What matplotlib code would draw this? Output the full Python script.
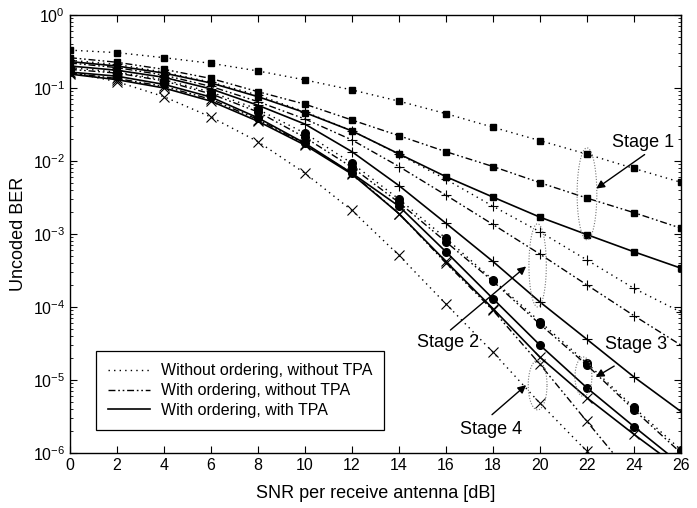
import numpy as np
import matplotlib
matplotlib.use("Agg")
import matplotlib.pyplot as plt
from matplotlib.lines import Line2D
from matplotlib.ticker import NullFormatter, FixedLocator, LogFormatterSciNotation

plt.rcParams['font.family'] = ['Liberation Sans', 'DejaVu Sans']
plt.rcParams['mathtext.fontset'] = 'custom'
plt.rcParams['mathtext.rm'] = 'Liberation Sans'
plt.rcParams['mathtext.it'] = 'Liberation Sans:italic'

snr = [0, 2, 4, 6, 8, 10, 12, 14, 16, 18, 20, 22, 24, 26]
ber_ticks = [1e-6, 1e-5, 1e-4, 1e-3, 1e-2, 1e-1, 1e0]

# Stage 1 (squares)
s1_noord = [0.33, 0.305, 0.26, 0.218, 0.171, 0.129, 0.094, 0.066, 0.0445, 0.029, 0.019, 0.0124, 0.0079, 0.0051]
s1_ord = [0.26, 0.225, 0.18, 0.135, 0.089, 0.060, 0.0364, 0.0222, 0.0134, 0.0084, 0.00504, 0.0031, 0.00196, 0.0012]
s1_tpa = [0.23, 0.2, 0.16, 0.117, 0.076, 0.046, 0.0258, 0.0125, 0.0061, 0.0032, 0.0017, 0.00098, 0.00057, 0.00034]
# Stage 2 (plus)
s2_noord = [0.24, 0.21, 0.165, 0.12, 0.08, 0.047, 0.026, 0.0123, 0.0056, 0.0024, 0.00107, 0.00044, 0.00018, 8.5e-5]
s2_ord = [0.22, 0.19, 0.15, 0.105, 0.065, 0.0376, 0.0194, 0.0084, 0.0034, 0.00135, 5.3e-4, 2.0e-4, 7.6e-5, 3.0e-5]
s2_tpa = [0.2, 0.175, 0.14, 0.097, 0.058, 0.032, 0.0134, 0.0046, 0.0014, 4.2e-4, 1.17e-4, 3.6e-5, 1.1e-5, 3.7e-6]
# Stage 3 (circles)
s3_noord = [0.19, 0.165, 0.13, 0.088, 0.051, 0.024, 0.0093, 0.0030, 8.7e-4, 2.35e-4, 6.3e-5, 1.7e-5, 4.2e-6, 1.1e-6]
s3_ord = [0.18, 0.16, 0.125, 0.083, 0.047, 0.021, 0.0082, 0.0027, 7.8e-4, 2.25e-4, 5.8e-5, 1.6e-5, 3.9e-6, 1.0e-6]
s3_tpa = [0.165, 0.145, 0.112, 0.075, 0.039, 0.0175, 0.0068, 0.0024, 5.7e-4, 1.3e-4, 3.0e-5, 7.8e-6, 2.3e-6, 7e-7]
# Stage 4 (crosses)
s4_noord = [0.165, 0.122, 0.076, 0.040, 0.0184, 0.0068, 0.0021, 5.1e-4, 1.1e-4, 2.4e-5, 4.8e-6, 1.05e-6]
s4_ord = [0.16, 0.135, 0.105, 0.07, 0.037, 0.017, 0.0068, 0.0019, 4.0e-4, 9.0e-5, 1.64e-5, 2.7e-6, 4.5e-7]
s4_tpa = [0.155, 0.13, 0.1, 0.066, 0.035, 0.0165, 0.0066, 0.0019, 4.2e-4, 9.5e-5, 2.05e-5, 5.7e-6, 1.8e-6, 6e-7]

legend_labels = ["Without ordering, without TPA", "With ordering, without TPA", "With ordering, with TPA"]

DOT = (0, (1, 3))
DASHDOT = (0, (5, 2, 1.2, 2, 1.2, 2))
SOLID = '-'

fig = plt.figure(figsize=(6.97, 5.08), dpi=100)
ax = fig.add_axes([0.1004, 0.1083, 0.8766, 0.8622])

stages = [
    ('s', dict(ms=5, mfc='k', mec='k'), [s1_noord, s1_ord, s1_tpa]),
    ('+', dict(ms=6.5, mew=0.8), [s2_noord, s2_ord, s2_tpa]),
    ('o', dict(ms=5.5, mfc='k', mec='k'), [s3_noord, s3_ord, s3_tpa]),
    ('x', dict(ms=7, mew=0.8), [s4_noord, s4_ord, s4_tpa]),
]
styles = [(DOT, 1.0), (DASHDOT, 1.0), (SOLID, 1.2)]
for marker, mkw, series in stages:
    for vals, (ls, lw) in zip(series, styles):
        ax.plot(snr[:len(vals)], vals, color='k', ls=ls, lw=lw, marker=marker, **mkw)

ax.set_yscale('log')
ax.set_xlim(0, 26)
ax.set_ylim(1e-6, 1)
ax.xaxis.set_major_locator(FixedLocator(snr))
ax.yaxis.set_major_locator(FixedLocator(ber_ticks))
ax.yaxis.set_major_formatter(LogFormatterSciNotation())
minor = [m * d for d in ber_ticks[:-1] for m in range(2, 10)]
ax.yaxis.set_minor_locator(FixedLocator(minor))
ax.yaxis.set_minor_formatter(NullFormatter())
ax.tick_params(which='both', direction='in', top=True, right=True, labelsize=11.5)
ax.tick_params(which='major', length=5, width=0.8)
ax.tick_params(which='minor', length=2.5, width=0.6)
for sp in ax.spines.values():
    sp.set_linewidth(1.0)

ax.set_xlabel("SNR per receive antenna [dB]", fontsize=13, labelpad=9)
ax.set_ylabel("Uncoded BER", fontsize=13, labelpad=4)

# ellipses around groups (in log space)
def ellipse(xc, logc, a, b):
    t = np.linspace(0, 2 * np.pi, 200)
    ax.plot(xc + a * np.cos(t), 10 ** (logc + b * np.sin(t)), color='0.45', ls=(0, (1, 1.5)), lw=0.8)

ellipse(22.0, -2.45, 0.42, 0.63)
ellipse(19.9, -3.43, 0.37, 0.57)
ellipse(21.85, -4.955, 0.36, 0.27)
ellipse(19.9, -5.07, 0.40, 0.34)

akw = dict(arrowstyle='-|>', color='k', lw=1.0, mutation_scale=12)
ax.annotate('', xy=(22.3, 10 ** -2.40), xytext=(24.55, 10 ** -1.89), arrowprops=akw)
ax.text(23.06, 10 ** -1.753, 'Stage 1', fontsize=13, va='center', ha='left')
ax.annotate('', xy=(19.5, 10 ** -3.42), xytext=(16.1, 10 ** -4.34), arrowprops=akw)
ax.text(14.77, 10 ** -4.49, 'Stage 2', fontsize=13, va='center', ha='left')
ax.annotate('', xy=(22.27, 10 ** -4.98), xytext=(23.26, 10 ** -4.79), arrowprops=akw)
ax.text(22.77, 10 ** -4.51, 'Stage 3', fontsize=13, va='center', ha='left')
ax.annotate('', xy=(19.5, 10 ** -5.045), xytext=(17.87, 10 ** -5.50), arrowprops=akw)
ax.text(16.6, 10 ** -5.68, 'Stage 4', fontsize=13, va='center', ha='left')

handles = [Line2D([], [], color='k', ls=ls, lw=lw) for ls, lw in styles]
leg = ax.legend(handles, legend_labels, loc='lower left', bbox_to_anchor=(0.0426, 0.0525),
                borderaxespad=0, fancybox=False, framealpha=1, edgecolor='k', fontsize=11.5,
                handlelength=2.6, labelspacing=0.3, borderpad=0.75, handletextpad=0.7)
leg.get_frame().set_linewidth(0.9)

fig.savefig('out.png', dpi=100)
